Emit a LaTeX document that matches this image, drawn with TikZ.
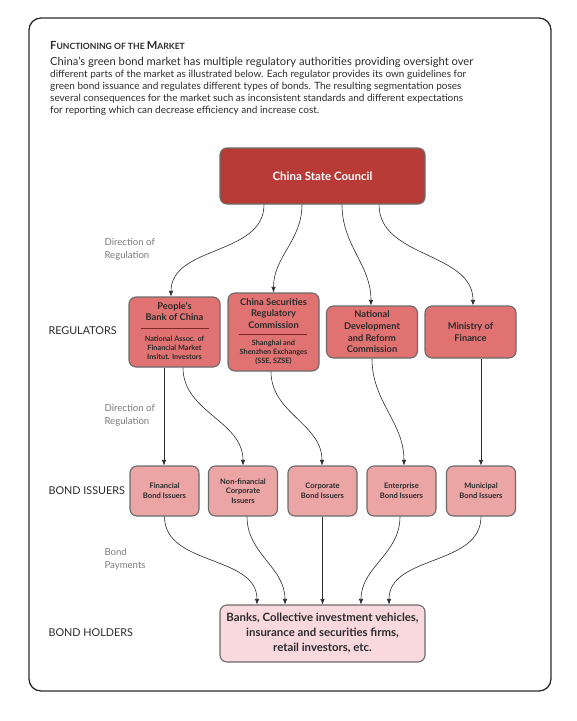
\documentclass[tikz,border=0pt]{standalone}
\usepackage{fontspec}
\setmainfont{Lato}
\usetikzlibrary{arrows.meta}

\definecolor{councilred}{HTML}{B83B37}
\definecolor{regred}{HTML}{E07272}
\definecolor{issuerpink}{HTML}{EBA5A5}
\definecolor{holderpink}{HTML}{F9D9DE}
\definecolor{boxline}{HTML}{6B6B6B}
\definecolor{inktext}{HTML}{2B2B2B}
\definecolor{notegray}{HTML}{7A7A7A}

\tikzset{
    box/.style={draw=boxline, line width=1.1pt, rounded corners=7pt, inner sep=0pt, text=inktext},
    regbox/.style={box, fill=regred, minimum width=91pt},
    issbox/.style={box, fill=issuerpink, minimum width=69pt, minimum height=50pt, align=center,
        font=\bfseries\fontsize{7.6}{9.8}\selectfont},
    flow/.style={draw=inktext, line width=0.6pt, -{Latex[length=5.5pt,width=4.5pt]}},
    rowlabel/.style={anchor=west, text=inktext, font=\fontsize{10.8}{13}\selectfont},
    note/.style={anchor=west, align=left, text=notegray, font=\fontsize{9.6}{13}\selectfont},
    regtitle/.style={align=center, font=\bfseries\fontsize{9.3}{11.7}\selectfont},
    regsub/.style={align=center, font=\bfseries\fontsize{7.3}{9}\selectfont},
}

\begin{document}
\begin{tikzpicture}[x=1pt,y=1pt]
    \useasboundingbox (0,0) rectangle (577,-721);
    % frame
    \draw[line width=1.3pt, inktext, rounded corners=12pt] (29,-18) rectangle (551,-691);

    % heading and text
    \node[anchor=base west, inktext, inner sep=0pt] (heading) at (50,-49)
        {\bfseries\fontsize{11.2}{12}\selectfont F\fontsize{8.6}{12}\selectfont UNCTIONING OF THE \fontsize{11.2}{12}\selectfont M\fontsize{8.6}{12}\selectfont ARKET};
    \node[anchor=north west, inktext, align=left, inner sep=0pt] (intro) at (50,-57)
        {\fontsize{11.2}{15.5}\selectfont
        China's green bond market has multiple regulatory authorities providing oversight over\\
        different parts of the market as illustrated below. Each regulator provides its own guidelines for\\
        green bond issuance and regulates different types of bonds. The resulting segmentation poses\\
        several consequences for the market such as inconsistent standards and different expectations\\
        for reporting which can decrease efficiency and increase cost.};

    % top
    \node[box, fill=councilred, minimum width=205pt, minimum height=56pt, text=white,
        font=\bfseries\fontsize{11.5}{13}\selectfont] (council) at (322.5,-176) {China State Council};

    % regulators
    \node[regbox, minimum height=70pt] (pboc) at (174.5,-332) {};
    \node[regbox, minimum height=78pt] (csrc) at (273.5,-332) {};
    \node[regbox, minimum height=52pt, regtitle] (ndrc) at (372,-332)
        {National\\Development\\and Reform\\Commission};
    \node[regbox, minimum height=52pt, regtitle] (mof) at (470.5,-332)
        {Ministry of\\Finance};

    \node[regtitle, text=inktext] (pboc-t) at (174.5,-311.5) {People's\\Bank of China};
    \draw[councilred!70!black, line width=0.5pt] (141,-328) -- (209,-328);
    \node[regsub, text=inktext] (pboc-s) at (174.5,-348) {National Assoc. of\\Financial Market\\Insitut. Investors};

    \node[regtitle, text=inktext] (csrc-t) at (273.5,-313.5) {China Securities\\Regulatory\\Commission};
    \draw[councilred!70!black, line width=0.5pt] (239,-334) -- (307,-334);
    \node[regsub, text=inktext] (csrc-s) at (273.5,-352) {Shanghai and\\Shenzhen Exchanges\\(SSE, SZSE)};

    % bond issuers
    \node[issbox] (fin) at (164.5,-491) {Financial\\Bond Issuers};
    \node[issbox] (nonfin) at (243,-491) {Non-financial\\Corporate\\Issuers};
    \node[issbox] (corp) at (322.5,-491) {Corporate\\Bond Issuers};
    \node[issbox] (ent) at (401.5,-491) {Enterprise\\Bond Issuers};
    \node[issbox] (mun) at (481,-491) {Municipal\\Bond Issuers};

    % bond holders
    \node[box, fill=holderpink, minimum width=205pt, minimum height=57pt, align=center,
        font=\bfseries\fontsize{11.4}{15}\selectfont] (holders) at (322.5,-633.5)
        {Banks, Collective investment vehicles,\\insurance and securities firms,\\retail investors, etc.};

    % row labels
    \node[rowlabel] (lab-reg) at (45,-331) {REGULATORS};
    \node[rowlabel] (lab-iss) at (45,-491) {BOND ISSUERS};
    \node[rowlabel] (lab-hold) at (45,-633) {BOND HOLDERS};
    \node[note] (dir-a) at (101,-249.5) {Direction of\\Regulation};
    \node[note] (dir-b) at (101,-415.5) {Direction of\\Regulation};
    \node[note] (pay) at (101,-559.5) {Bond\\Payments};

    % council to regulators
    \draw[flow] ([xshift=-58.5pt]council.south) to[out=-90, in=90] ([xshift=-3.5pt]pboc.north);
    \draw[flow] ([xshift=-20.5pt]council.south) to[out=-90, in=90] (csrc.north);
    \draw[flow] ([xshift=19.5pt]council.south) to[out=-90, in=90] ([xshift=-1pt]ndrc.north);
    \draw[flow] ([xshift=56.5pt]council.south) to[out=-90, in=90] ([xshift=2.5pt]mof.north);

    % regulators to issuers
    \draw[flow] ([xshift=-10.5pt]pboc.south) -- ([xshift=-0.5pt]fin.north);
    \draw[flow] ([xshift=8.5pt]pboc.south) to[out=-90, in=90] (nonfin.north);
    \draw[flow] ([xshift=-2.5pt]csrc.south) to[out=-90, in=90] ([xshift=-0.5pt]corp.north);
    \draw[flow] (ndrc.south) to[out=-90, in=90] ([xshift=2.5pt]ent.north);
    \draw[flow] ([xshift=10.5pt]mof.south) -- (mun.north);

    % issuers to holders
    \draw[flow] (fin.south) to[out=-90, in=90] ([xshift=-65.5pt]holders.north);
    \draw[flow] ([xshift=4pt]nonfin.south) to[out=-90, in=90] ([xshift=-37.5pt]holders.north);
    \draw[flow] (corp.south) -- (holders.north);
    \draw[flow] ([xshift=-1.5pt]ent.south) to[out=-90, in=90] ([xshift=38.5pt]holders.north);
    \draw[flow] (mun.south) to[out=-90, in=90] ([xshift=66.5pt]holders.north);
\end{tikzpicture}
\end{document}
